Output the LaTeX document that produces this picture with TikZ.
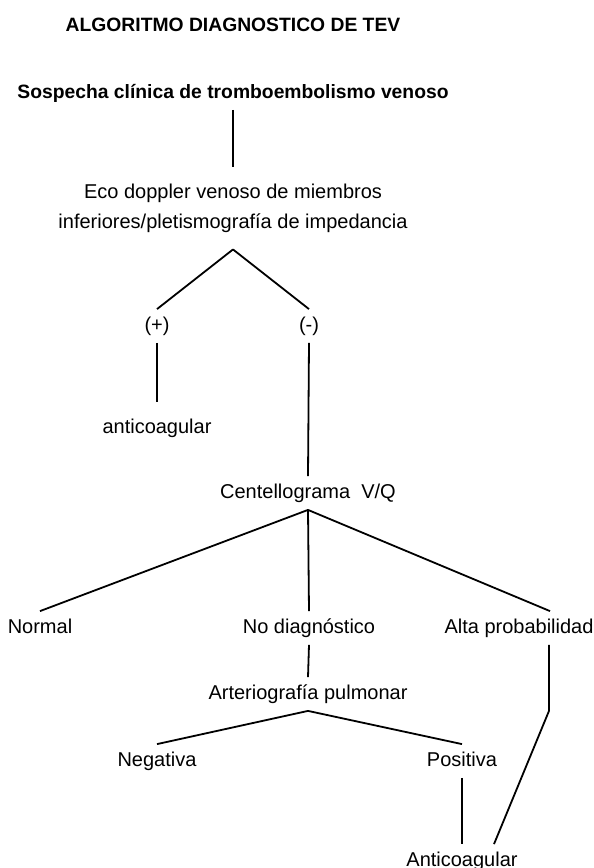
\documentclass[tikz,border=0pt]{standalone}
\usepackage{fontspec}
\setmainfont{Liberation Sans}

\begin{document}
\begin{tikzpicture}[x=1bp, y=-1bp, line width=1.8bp,
    every node/.style={anchor=base, inner xsep=0pt, inner ysep=6bp, text height=15bp, text depth=5bp, font=\fontsize{20bp}{30bp}\selectfont},
    heading/.style={font=\fontsize{19.3bp}{24bp}\selectfont\bfseries}]
    \useasboundingbox (0,0) rectangle (594,868);

    % Title
    \node (title) [heading] at (233,31) {ALGORITMO DIAGNOSTICO DE TEV};
    % Start node
    \node (sospecha) [heading] at (233,98) {Sospecha clínica de tromboembolismo venoso};
    % First test
    \node (eco) [anchor=north, align=center, inner ysep=16bp, text height=, text depth=] at (233,167)
        {Eco doppler venoso de miembros\\inferiores/pletismografía de impedancia};
    % Results of the first test
    \node (plus) at (157,331) {(+)};
    \node (minus) at (309,331) {(-)};
    \node (anticoag) [inner ysep=15bp] at (157,433) {anticoagular};
    % Second test
    \node (centello) at (308,498) {Centellograma\ \ V/Q};
    \node (normal) at (40,633) {Normal};
    \node (nodiag) at (309,633) {No diagnóstico};
    \node (alta) at (519,633) {Alta probabilidad};
    % Third test
    \node (arteria) at (308,699) {Arteriografía pulmonar};
    \node (negativa) at (157,766) {Negativa};
    \node (positiva) at (462,766) {Positiva};
    \node (anticoagfin) at (462,866) {Anticoagular};
    \coordinate (bend) at ([xshift=30bp]alta.south |- arteria.south);

    % Edges
    \draw (sospecha.south) -- (eco.north);
    \draw (eco.south) -- (plus.north);
    \draw (eco.south) -- (minus.north);
    \draw (plus.south) -- (anticoag.north);
    \draw (minus.south) -- (centello.north);
    \draw (centello.south) -- (normal.north);
    \draw (centello.south) -- (nodiag.north);
    \draw (centello.south) -- ([xshift=31bp]alta.north);
    \draw (nodiag.south) -- (arteria.north);
    \draw (arteria.south) -- (negativa.north);
    \draw (arteria.south) -- (positiva.north);
    \draw (positiva.south) -- (anticoagfin.north);
    \draw ([xshift=30bp]alta.south) -- (bend) -- ([xshift=32bp]anticoagfin.north);
\end{tikzpicture}
\end{document}
